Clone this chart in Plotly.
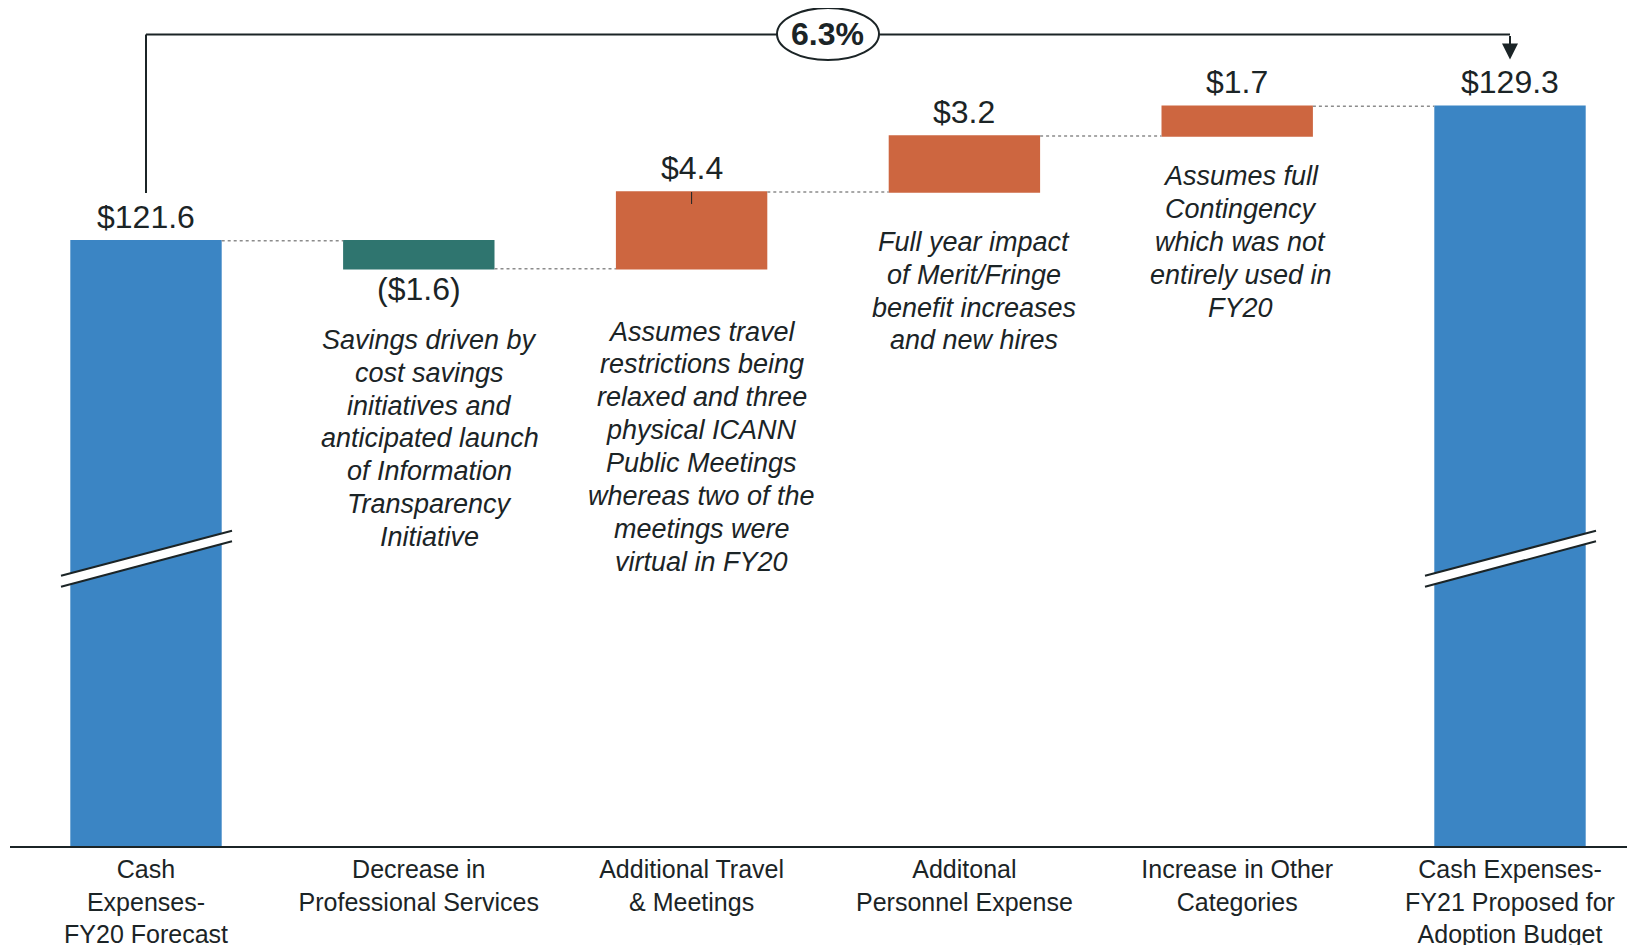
import plotly.graph_objects as go

# ---------------- data ----------------
categories = [
    "Cash<br>Expenses-<br>FY20 Forecast",
    "Decrease in<br>Professional Services",
    "Additional Travel<br>& Meetings",
    "Additonal<br>Personnel Expense",
    "Increase in Other<br>Categories",
    "Cash Expenses-<br>FY21 Proposed for<br>Adoption Budget",
]
measures = ["absolute", "relative", "relative", "relative", "relative", "total"]
values = [121.6, -1.6, 4.4, 3.2, 1.7, 129.3]
value_labels = ["$121.6", "($1.6)", "$4.4", "$3.2", "$1.7", "$129.3"]
notes = [
    [],
    ["Savings driven by", "cost savings", "initiatives and", "anticipated launch",
     "of Information", "Transparency", "Initiative"],
    ["Assumes travel", "restrictions being", "relaxed and three", "physical ICANN",
     "Public Meetings", "whereas two of the", "meetings were", "virtual in FY20"],
    ["Full year impact", "of Merit/Fringe", "benefit increases", "and new hires"],
    ["Assumes full", "Contingency", "which was not", "entirely used in", "FY20"],
    [],
]
growth_label = "6.3%"

# ---------------- layout constants (page pixels) ----------------
W, H = 1635, 945
OFF = 8                      # page body margin offset
PH = 847 - OFF               # plot area height in figure pixels
BOTTOM = H - PH
STEP = 272.8
XR0 = -(146 - OFF) / STEP
XR1 = XR0 + W / STEP
PX_PER_UNIT = 17.47
Y_BASE = 86.9
Y_TOP = Y_BASE + PH / PX_PER_UNIT

BLUE = "#3b85c4"
TEAL = "#2f756f"
ORANGE = "#cd6640"
DARK = "#1b2426"
FONT = "Liberation Sans, Arial, sans-serif"


def py(p):  # page pixel y -> paper y
    return 1 - (p - OFF) / PH


def px(p):  # page pixel x -> paper x
    return (p - OFF) / W


def vy(p):  # page pixel y -> data y
    return Y_TOP - (p - OFF) / PX_PER_UNIT


xs = list(range(len(categories)))

fig = go.Figure(
    go.Waterfall(
        x=xs,
        y=values,
        measure=measures,
        width=0.555,
        increasing=dict(marker=dict(color=ORANGE)),
        decreasing=dict(marker=dict(color=TEAL)),
        totals=dict(marker=dict(color=BLUE)),
        connector=dict(mode="between", line=dict(color="#8c8c8c", width=1.5, dash="dot")),
        textinfo="none",
        hoverinfo="skip",
    )
)

annotations = []
running = 0.0
for i, (m, v) in enumerate(zip(measures, values)):
    if m == "absolute":
        start, end = 0.0, v
    elif m == "relative":
        start, end = running, running + v
    else:
        start, end = 0.0, running
    running = end
    if m == "relative" and v < 0:
        yv, sh = min(start, end), -20
    else:
        yv, sh = max(start, end), 24
    annotations.append(dict(x=i, y=yv, xref="x", yref="y", text=value_labels[i],
                            showarrow=False, yanchor="middle", yshift=sh,
                            font=dict(size=32, color=DARK, family=FONT)))

# notes, one annotation per line
LINE = 32.85
note_pos = {1: (10.8, 339.9), 2: (10.1, 331.6), 3: (9.5, 241.9), 4: (3.6, 176.2)}
for i, lines in enumerate(notes):
    if not lines:
        continue
    xoff, y0 = note_pos[i]
    for k, t in enumerate(lines):
        annotations.append(dict(x=i, xref="x", y=py(y0 + k * LINE), yref="paper",
                                text="<i>" + t + "</i>", showarrow=False, xshift=xoff,
                                yanchor="middle",
                                font=dict(size=27, color=DARK, family=FONT)))

# growth label in ellipse
annotations.append(dict(x=px(828), xref="paper", y=py(34), yref="paper",
                        text="<b>" + growth_label + "</b>", showarrow=False, yanchor="middle",
                        font=dict(size=32, color=DARK, family=FONT)))

# arrow head at right end of bracket
annotations.append(dict(x=5, y=vy(59.5), xref="x", yref="y",
                        ax=5, ay=vy(34.4), axref="x", ayref="y",
                        showarrow=True, arrowhead=2, arrowsize=1.6, arrowwidth=2,
                        arrowcolor=DARK, text=""))

shapes = []
y_br = py(34.4)
shapes.append(dict(type="line", xref="x", yref="paper", x0=0, x1=0, y0=py(193), y1=y_br,
                   line=dict(color=DARK, width=2)))
shapes.append(dict(type="line", xref="x", yref="paper", x0=0, x1=5, y0=y_br, y1=y_br,
                   line=dict(color=DARK, width=2)))
shapes.append(dict(type="circle", xref="paper", yref="paper", x0=px(777), x1=px(879),
                   y0=py(60), y1=py(8), fillcolor="white", line=dict(color=DARK, width=2)))

# small tick on $4.4 bar
shapes.append(dict(type="line", xref="x", yref="paper", x0=2, x1=2, y0=py(192), y1=py(204),
                   line=dict(color=DARK, width=1)))

# axis break marks on the total bars
for i in (0, 5):
    xl = i - 85 / STEP
    xr = i + 86 / STEP
    tl, tr, bl, br = py(575.7), py(530.7), py(586.7), py(541.3)
    shapes.append(dict(type="path", xref="x", yref="paper",
                       path=f"M {xl},{tl} L {xr},{tr} L {xr},{br} L {xl},{bl} Z",
                       fillcolor="white", line=dict(width=0)))
    shapes.append(dict(type="line", xref="x", yref="paper", x0=xl, x1=xr, y0=tl, y1=tr,
                       line=dict(color=DARK, width=2)))
    shapes.append(dict(type="line", xref="x", yref="paper", x0=xl, x1=xr, y0=bl, y1=br,
                       line=dict(color=DARK, width=2)))

# baseline axis line
shapes.append(dict(type="line", xref="paper", yref="paper", x0=px(10), x1=1, y0=0, y1=0,
                   line=dict(color=DARK, width=2)))

fig.update_layout(
    width=W, height=H,
    margin=dict(l=0, r=0, t=0, b=BOTTOM, autoexpand=False),
    plot_bgcolor="white", paper_bgcolor="white",
    showlegend=False,
    xaxis=dict(range=[XR0, XR1], tickmode="array", tickvals=xs, ticktext=categories,
               showgrid=False, zeroline=False, showline=False, automargin=False,
               ticks="", ticklen=0, ticklabelstandoff=5,
               tickfont=dict(size=25, color=DARK, family=FONT)),
    yaxis=dict(range=[Y_BASE, Y_TOP], visible=False, showgrid=False, zeroline=False,
               automargin=False),
    annotations=annotations,
    shapes=shapes,
)

fig.write_html("out.html")
